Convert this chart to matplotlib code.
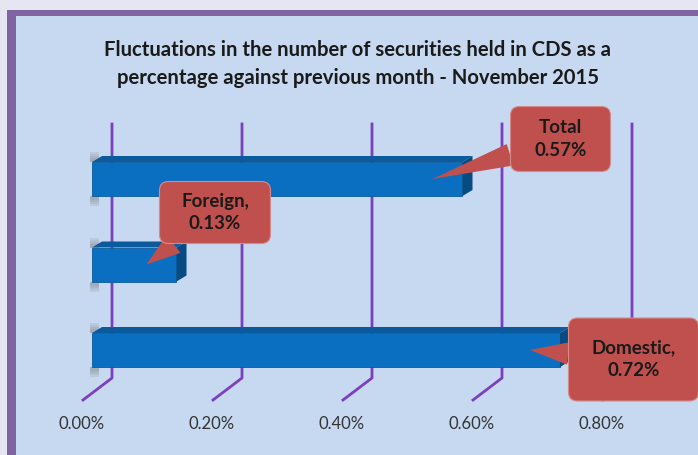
import matplotlib
matplotlib.use('Agg')
import numpy as np
import matplotlib.pyplot as plt
from matplotlib.patches import Rectangle, Polygon, BoxStyle

# data
categories = ['Domestic', 'Foreign', 'Total']
values = [0.72, 0.13, 0.57]          # % change vs previous month
callout_names = ['Domestic,', 'Foreign,', 'Total']
ticks = [0.0, 0.2, 0.4, 0.6, 0.8]
title = ('Fluctuations in the number of securities held in CDS as a\n'
         'percentage against previous month - November 2015')

W, H = 698, 455
plt.rcParams['font.family'] = ['Lato', 'DejaVu Sans']

fig = plt.figure(figsize=(W / 100, H / 100), dpi=100, facecolor='#e6e6f2')

# purple frame + light blue chart area
fig.patches.append(Rectangle((7 / W, 0), 1, 1 - 10 / H, transform=fig.transFigure,
                             facecolor='#8064a2', edgecolor='none', zorder=-2))
fig.patches.append(Rectangle((16 / W, 0), 1, 1 - 16 / H, transform=fig.transFigure,
                             facecolor='#c6d9f0', edgecolor='none', zorder=-1))

fig.text(358 / W, 1 - 64.5 / H, title, ha='center', va='center', fontsize=14.6,
         fontweight='bold', linespacing=1.5, color='#1a1a1a')

ax = fig.add_axes([92 / W, 77 / H, 520 / W, 256 / H])
ax.axis('off')
lo = -28 / 85.5
hi = lo + 256 / 85.5
ax.set_xlim(0, 0.8)
ax.set_ylim(lo, hi)
dx = 0.8 / 520          # one pixel in data units
dy = (hi - lo) / 256

# gridlines on the back wall, bending forward on the floor
for v in ticks:
    ax.plot([v - 9 * dx, v + 20 * dx, v + 20 * dx], [lo - 22 * dy, lo, hi - 2 * dy],
            color='#7b3fbf', lw=2, clip_on=False, zorder=1)
    ax.text(v - 10 * dx, lo - 46 * dy, f'{v:.2f}%', ha='center', va='center',
            fontsize=12, color='#333333')

# 3d-ish bars
y = np.arange(len(values))
h = 34 * dy
for yi, v in zip(y, values):
    # soft grey shading at the left end, above and below the bar
    for k in range(4):
        for y0, y1 in [(yi + h / 2, yi + h / 2 + (10 - 2 * k) * dy),
                       (yi - h / 2 - (10 - 2 * k) * dy, yi - h / 2)]:
            ax.add_patch(Polygon([(-2 * dx, y0), (7 * dx, y0), (7 * dx, y1), (-2 * dx, y1)],
                                 closed=True, facecolor='#808080', alpha=0.15,
                                 edgecolor='none', zorder=2, clip_on=False))
    ax.barh(yi, v, height=h, color='#0a6fc0', edgecolor='#0b5a9c', lw=0.6, zorder=3)
    ax.add_patch(Polygon([(0, yi + h / 2), (v, yi + h / 2),
                          (v + 10 * dx, yi + h / 2 + 6 * dy), (10 * dx, yi + h / 2 + 6 * dy)],
                         closed=True, facecolor='#0b5a9e', edgecolor='none', zorder=4))
    ax.add_patch(Polygon([(v, yi - h / 2), (v, yi + h / 2),
                          (v + 10 * dx, yi + h / 2 + 6 * dy), (v + 10 * dx, yi - h / 2 + 6 * dy)],
                         closed=True, facecolor='#064b82', edgecolor='none', zorder=4))


def fixed_box(w, hh, r=9):
    def style(x0, y0, width, height, mutation_size):
        cx, cy = x0 + width / 2, y0 + height / 2
        base = BoxStyle.Round(pad=0, rounding_size=r / mutation_size)
        return base(cx - w / 2, cy - hh / 2, w, hh, mutation_size)
    return style


# callouts: offset of box centre from the pointer tip (pixels) and box size
offsets = [(103.5, -9.5), (68.5, 52), (128, 40)]
sizes = [(130, 83), (111, 62), (100, 65)]
for yi, v, name, off, sz in zip(y, values, callout_names, offsets, sizes):
    ax.annotate(f'{name}\n{v:.2f}%', xy=(v - 30 * dx, yi), xytext=off,
                textcoords='offset pixels', ha='center', va='center',
                fontsize=13.5, fontweight='bold', color='#1a1a1a', linespacing=1.4,
                bbox=dict(boxstyle=fixed_box(*sz), fc='#c0504d', ec='#d48a88', lw=0.8),
                arrowprops=dict(arrowstyle='wedge,tail_width=1.2,shrink_factor=0.5',
                                fc='#c0504d', ec='none', shrinkA=0, shrinkB=0),
                zorder=6, annotation_clip=False)

fig.savefig('out.png', dpi=100, facecolor=fig.get_facecolor())
